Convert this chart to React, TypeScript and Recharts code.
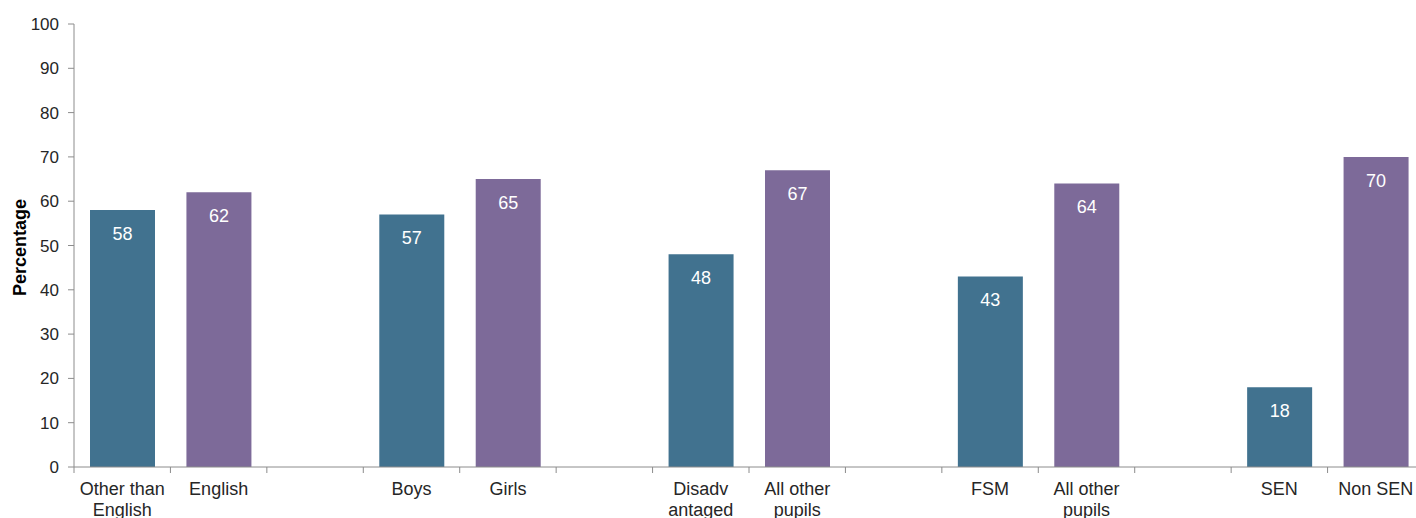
import React from 'react';
import { BarChart, Bar, XAxis, YAxis, Cell, LabelList } from 'recharts';

const categories: string[] = [
  'Other than\nEnglish', 'English', '',
  'Boys', 'Girls', '',
  'Disadv\nantaged', 'All other\npupils', '',
  'FSM', 'All other\npupils', '',
  'SEN', 'Non SEN',
];
const values: (number | null)[] = [58, 62, null, 57, 65, null, 48, 67, null, 43, 64, null, 18, 70];
const yTicks: number[] = [0, 10, 20, 30, 40, 50, 60, 70, 80, 90, 100];

const TEAL = '#41728F';
const PURPLE = '#7D6A99';
const AXIS = '#8C8C8C';
const TEXT = '#262626';
const FONT = '"Liberation Sans", Arial, sans-serif';

if (typeof document !== 'undefined') {
  document.body.style.margin = '0';
}

const PAGE_W = 1416;
const PAGE_H = 518;
const WIDTH = 1416;
const HEIGHT = 510;
const MARGIN = { top: 16, right: 0, left: 0, bottom: 0 };
const YAXIS_W = 66;
const XAXIS_H = 51;
const HALF_BAND = (WIDTH - MARGIN.left - MARGIN.right - YAXIS_W) / categories.length / 2;

const data = categories.map((c, i) => ({ key: i, value: values[i] }));

const XTick = (props: any) => {
  const { x, y, payload, index } = props;
  const label = categories[payload.value] ?? '';
  const lines = label.split('\n');
  return (
    <g>
      <line x1={x - HALF_BAND} x2={x - HALF_BAND} y1={y} y2={y + 6} stroke={AXIS} />
      {index === categories.length - 1 && (
        <line x1={x + HALF_BAND} x2={x + HALF_BAND} y1={y} y2={y + 6} stroke={AXIS} />
      )}
      <text x={x} y={y} textAnchor="middle" fill={TEXT} fontSize={18} fontFamily={FONT}>
        {lines.map((l: string, i: number) => (
          <tspan key={i} x={x} dy={i === 0 ? 28 : 21}>{l}</tspan>
        ))}
      </text>
    </g>
  );
};

const YLabel = (props: any) => {
  const { viewBox } = props;
  const cx = 12;
  const cy = viewBox.y + viewBox.height / 2 + 2;
  return (
    <text
      x={cx}
      y={cy}
      transform={`rotate(-90, ${cx}, ${cy})`}
      textAnchor="middle"
      dominantBaseline="central"
      fontWeight="bold"
      fontSize={18}
      fill="#000"
      fontFamily={FONT}
    >
      Percentage
    </text>
  );
};

export default function App() {
  return (
    <div style={{ width: PAGE_W, height: PAGE_H, overflow: 'hidden', fontFamily: FONT, background: '#fff' }}>
      <div style={{ paddingLeft: 8, paddingTop: 8 }}>
        <BarChart width={WIDTH} height={HEIGHT} data={data} margin={MARGIN} barSize={65}>
          <XAxis
            dataKey="key"
            type="category"
            height={XAXIS_H}
            interval={0}
            tickSize={0}
            tickMargin={0}
            tickLine={false}
            axisLine={{ stroke: AXIS }}
            tick={<XTick />}
          />
          <YAxis
            width={YAXIS_W}
            domain={[0, 100]}
            ticks={yTicks}
            interval={0}
            tickSize={6}
            tickMargin={9}
            axisLine={{ stroke: AXIS }}
            tickLine={{ stroke: AXIS }}
            tick={{ fill: TEXT, fontSize: 17, fontFamily: FONT }}
            label={<YLabel />}
          />
          <Bar dataKey="value" isAnimationActive={false}>
            {data.map((d, i) => (
              <Cell key={i} fill={i % 3 === 0 ? TEAL : PURPLE} />
            ))}
            <LabelList
              dataKey="value"
              position="insideTop"
              offset={17}
              fill="#FFFFFF"
              fontSize={18}
              fontFamily={FONT}
            />
          </Bar>
        </BarChart>
      </div>
    </div>
  );
}
